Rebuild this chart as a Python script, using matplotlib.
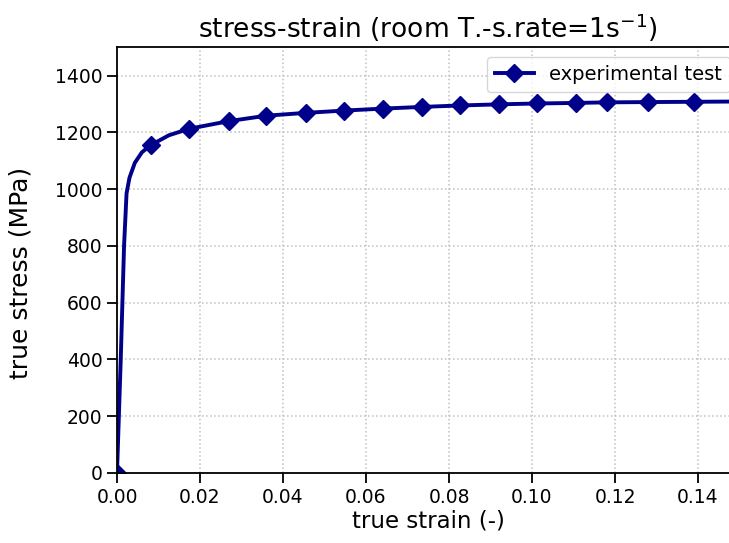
import matplotlib
matplotlib.use("Agg")
import matplotlib.pyplot as plt

strain = [0.0, 0.0009, 0.0017, 0.0023, 0.0030, 0.0043, 0.0060, 0.0081, 0.0125,
          0.0174, 0.0270, 0.0360, 0.0455, 0.0547, 0.0641, 0.0735, 0.0827, 0.0920,
          0.1012, 0.1106, 0.1181, 0.1280, 0.1390, 0.1500]
stress = [0, 400, 800, 985, 1040, 1093, 1130, 1155, 1190,
          1213, 1240, 1259, 1269, 1277, 1284, 1290, 1295, 1299,
          1302, 1304, 1306, 1307, 1308, 1309]
marker_idx = [0, 7, 9, 10, 11, 12, 13, 14, 15, 16, 17, 18, 19, 20, 21, 22]
xticks = [0.00, 0.02, 0.04, 0.06, 0.08, 0.10, 0.12, 0.14]
yticks = [0, 200, 400, 600, 800, 1000, 1200, 1400]

fig = plt.figure(figsize=(7.29, 5.43), dpi=100)
ax = fig.add_axes([117/729, 1-473/543, (739.5-117)/729, (473-47.3)/543])
ax.plot(strain, stress, color='#00008B', lw=2.8, marker='D', ms=9,
        markevery=marker_idx, label='experimental test')
ax.set_xlim(0, 0.15)
ax.set_ylim(0, 1500)
ax.set_xticks(xticks)
ax.set_yticks(yticks)
ax.set_xticklabels([f"{v:.2f}" for v in xticks])
ax.grid(True, linestyle=':', color='#c0c0c0', lw=1.1)
ax.tick_params(labelsize=13.5, length=7, width=1.3)
for s in ax.spines.values():
    s.set_linewidth(1.3)
ax.set_xlabel('true strain (-)', fontsize=16.5, labelpad=2)
ax.set_ylabel('true stress (MPa)', fontsize=18)
ax.yaxis.set_label_coords(-0.135, 0.47)
ax.set_title(r'stress-strain (room T.-s.rate=1s$^{-1}$)', fontsize=19, pad=7)
ax.legend(loc='upper right', fontsize=14, borderaxespad=0.5)
fig.savefig('out.png', dpi=100)
